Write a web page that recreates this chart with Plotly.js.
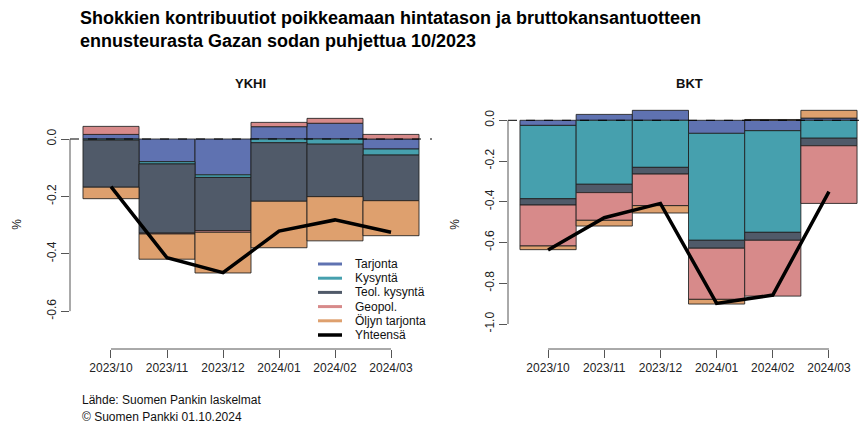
<!DOCTYPE html>
<html>
<head>
<meta charset="utf-8">
<script src="https://cdn.plot.ly/plotly-3.0.1.min.js"></script>
<style>html,body{margin:0;padding:0;background:#fff;}#chart{width:863px;height:426px;}</style>
</head>
<body>
<div id="chart"></div>
<script>
// ---- data ----
const categories = ['2023/10','2023/11','2023/12','2024/01','2024/02','2024/03'];
const seriesNames = ['Tarjonta','Kysyntä','Teol. kysyntä','Geopol.','Öljyn tarjonta'];
const totalName = 'Yhteensä';

// YKHI (consumer prices)
const ykhiTarjonta = [0.016, -0.079, -0.125, 0.043, 0.055, -0.035];
const ykhiKysynta  = [-0.004, -0.008, -0.009, -0.013, -0.018, -0.021];
const ykhiTeol     = [-0.164, -0.241, -0.185, -0.204, -0.183, -0.159];
const ykhiGeopol   = [0.028, -0.003, -0.006, 0.015, 0.017, 0.016];
const ykhiOljy     = [-0.040, -0.088, -0.142, -0.162, -0.154, -0.122];
const ykhiTotal    = [-0.166, -0.414, -0.466, -0.321, -0.282, -0.325];

// BKT (GDP)
const bktTarjonta = [-0.025, 0.029, 0.049, -0.064, -0.051, 0.011];
const bktKysynta  = [-0.360, -0.314, -0.231, -0.525, -0.499, -0.088];
const bktTeol     = [-0.031, -0.041, -0.033, -0.039, -0.039, -0.037];
const bktGeopol   = [-0.201, -0.136, -0.155, -0.251, -0.274, -0.283];
const bktOljy     = [-0.018, -0.028, -0.036, -0.023, 0.004, 0.038];
const bktTotal    = [-0.637, -0.478, -0.408, -0.899, -0.858, -0.350];

const yTickValsL = [0, -0.2, -0.4, -0.6];
const yTickTextL = ['0.0', '-0.2', '-0.4', '-0.6'];
const yTickValsR = [0, -0.2, -0.4, -0.6, -0.8, -1.0];
const yTickTextR = ['0.0', '-0.2', '-0.4', '-0.6', '-0.8', '-1.0'];

// ---- styling ----
const colors = ['#5f72b1', '#46a0ae', '#505a69', '#d78a8a', '#dea06e'];
const FONT = 'Liberation Sans, Arial, Helvetica, sans-serif';
const edge = {color: 'rgba(30,30,30,0.85)', width: 1};

const ykhi = [ykhiTarjonta, ykhiKysynta, ykhiTeol, ykhiGeopol, ykhiOljy];
const bkt  = [bktTarjonta, bktKysynta, bktTeol, bktGeopol, bktOljy];

const traces = [];
[[ykhi, 'x', 'y'], [bkt, 'x2', 'y2']].forEach(([set, xa, ya]) => {
  set.forEach((vals, i) => {
    traces.push({
      type: 'bar', x: categories, y: vals, name: seriesNames[i],
      xaxis: xa, yaxis: ya, width: 1,
      marker: {color: colors[i], line: edge},
      showlegend: false, hoverinfo: 'x+y+name'
    });
  });
});
traces.push({type: 'scatter', mode: 'lines', x: categories, y: ykhiTotal, name: totalName,
  xaxis: 'x', yaxis: 'y', line: {color: '#000', width: 3.5}, showlegend: false});
traces.push({type: 'scatter', mode: 'lines', x: categories, y: bktTotal, name: totalName,
  xaxis: 'x2', yaxis: 'y2', line: {color: '#000', width: 3.5}, showlegend: false});

const W = 863, H = 426;
const px = v => v / W;
const py = v => 1 - v / H;

const axisCommon = {
  type: 'category', showgrid: false, zeroline: false, showline: false,
  ticks: 'outside', ticklen: 8, tickcolor: '#555', tickwidth: 1,
  tickfont: {family: FONT, size: 12, color: '#222'}, fixedrange: true
};
const yCommon = {
  showgrid: false, zeroline: false, showline: false,
  ticks: 'outside', ticklen: 8, tickcolor: '#555', tickwidth: 1,
  tickangle: -90, tickfont: {family: FONT, size: 12, color: '#222'},
  title: {text: '%', font: {family: FONT, size: 12, color: '#222'}, standoff: 21},
  fixedrange: true
};

const shapes = [];
// zero dashed lines
['y', 'y2'].forEach((ya, k) => {
  shapes.push({type: 'line', xref: (k ? 'x2' : 'x') + ' domain', x0: 0, x1: 1,
    yref: ya, y0: 0, y1: 0, line: {color: '#000', width: 1, dash: 'dash'}, layer: 'above'});
});
// R-style axis lines
shapes.push({type: 'line', xref: 'x', yref: 'y domain', x0: categories[0], x1: categories[categories.length-1], y0: 0, y1: 0, line: {color: '#555', width: 1}});
shapes.push({type: 'line', xref: 'x2', yref: 'y2 domain', x0: categories[0], x1: categories[categories.length-1], y0: 0, y1: 0, line: {color: '#555', width: 1}});
shapes.push({type: 'line', xref: 'x domain', yref: 'y', x0: 0, x1: 0, y0: yTickValsL[yTickValsL.length-1], y1: yTickValsL[0], line: {color: '#555', width: 1}});
shapes.push({type: 'line', xref: 'x2 domain', yref: 'y2', x0: 0, x1: 0, y0: yTickValsR[yTickValsR.length-1], y1: yTickValsR[0], line: {color: '#555', width: 1}});

const annotations = [];
// legend (manual, compact R-style)
const legNames = seriesNames.concat([totalName]);
const legColors = colors.concat(['#000']);
legNames.forEach((n, i) => {
  const yy = 264 + i * 14.2;
  shapes.push({type: 'line', xref: 'paper', yref: 'paper', x0: px(318), x1: px(342), y0: py(yy), y1: py(yy),
    line: {color: legColors[i], width: i === 5 ? 3.5 : 3}});
  annotations.push({xref: 'paper', yref: 'paper', x: px(353), y: py(yy), xanchor: 'left', yanchor: 'middle',
    text: n, showarrow: false, font: {family: FONT, size: 12, color: '#111'}});
});
// panel titles
annotations.push({xref: 'paper', yref: 'paper', x: px(251), y: py(84), xanchor: 'center', yanchor: 'middle',
  text: '<b>YKHI</b>', showarrow: false, font: {family: FONT, size: 13, color: '#111'}});
annotations.push({xref: 'paper', yref: 'paper', x: px(689), y: py(84), xanchor: 'center', yanchor: 'middle',
  text: '<b>BKT</b>', showarrow: false, font: {family: FONT, size: 13, color: '#111'}});
// footer
annotations.push({xref: 'paper', yref: 'paper', x: px(80), y: py(400), xanchor: 'left', yanchor: 'middle',
  text: 'Lähde: Suomen Pankin laskelmat', showarrow: false, font: {family: FONT, size: 12, color: '#111'}});
annotations.push({xref: 'paper', yref: 'paper', x: px(80), y: py(417), xanchor: 'left', yanchor: 'middle',
  text: '© Suomen Pankki 01.10.2024', showarrow: false, font: {family: FONT, size: 12, color: '#111'}});

const layout = {
  width: W, height: H,
  margin: {l: 0, r: 0, t: 0, b: 0},
  paper_bgcolor: '#fff', plot_bgcolor: 'rgba(0,0,0,0)',
  barmode: 'relative', bargap: 0,
  showlegend: false,
  font: {family: FONT, color: '#111'},
  title: {
    text: '<b>Shokkien kontribuutiot poikkeamaan hintatason ja bruttokansantuotteen<br>ennusteurasta Gazan sodan puhjettua 10/2023</b>',
    x: px(80), xanchor: 'left', xref: 'paper',
    y: py(24), yanchor: 'top', yref: 'container',
    font: {family: FONT, size: 18, color: '#000'}
  },
  xaxis: Object.assign({}, axisCommon, {domain: [px(70), px(432)], range: [-0.732, 5.732], anchor: 'y'}),
  yaxis: Object.assign({}, yCommon, {domain: [1 - 349/H, 1 - 100/H], range: [-0.732, 0.136],
    tickvals: yTickValsL, ticktext: yTickTextL, anchor: 'x'}),
  xaxis2: Object.assign({}, axisCommon, {domain: [px(508), 1], range: [-0.713, 5.606], anchor: 'y2'}),
  yaxis2: Object.assign({}, yCommon, {domain: [1 - 349/H, 1 - 100/H], range: [-1.1227, 0.0997],
    tickvals: yTickValsR, ticktext: yTickTextR, anchor: 'x2'}),
  shapes: shapes,
  annotations: annotations
};

Plotly.newPlot('chart', traces, layout, {displayModeBar: false, staticPlot: true});
</script>
</body>
</html>
